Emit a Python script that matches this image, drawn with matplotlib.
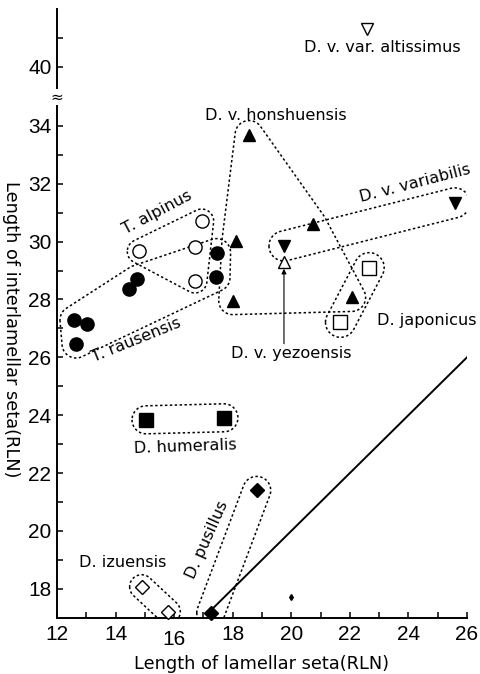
import numpy as np
import matplotlib
matplotlib.use("Agg")
import matplotlib.pyplot as plt
from matplotlib.patches import Polygon
from matplotlib.ticker import FixedLocator, FixedFormatter

# ---------------- data (lamellar seta, interlamellar seta; RLN) ----------------
t_alpinus_x = [14.81, 16.94, 16.71, 16.71]
t_alpinus_y = [29.66, 30.71, 29.82, 28.64]

t_rausensis_x = [12.58, 13.01, 12.65, 14.47, 14.74, 17.45, 17.43]
t_rausensis_y = [27.29, 27.15, 26.46, 28.36, 28.70, 29.62, 28.76]

honshuensis_x = [18.56, 18.11, 18.00, 20.73, 22.06]
honshuensis_y = [33.70, 30.02, 27.96, 30.60, 28.07]

variabilis_x = [19.75, 25.58]
variabilis_y = [29.85, 31.34]

yezoensis_x = [19.75]
yezoensis_y = [29.31]

altissimus_x = [22.60]
altissimus_y = [41.30]

japonicus_x = [22.66, 21.68]
japonicus_y = [29.10, 27.21]

humeralis_x = [15.04, 17.70]
humeralis_y = [23.84, 23.91]

izuensis_x = [14.89, 15.80]
izuensis_y = [18.07, 17.21]

pusillus_x = [18.82, 17.25]
pusillus_y = [21.40, 17.17]

speck_x = [20.0]
speck_y = [17.72]

diag_x = [17.3, 26.0]
diag_y = [17.3, 26.0]

x_major = [12, 14, 16, 18, 20, 22, 24, 26]
x_minor = [13, 15, 17, 19, 21, 23, 25]
y_major = [18, 20, 22, 24, 26, 28, 30, 32, 34, 40]
y_minor = [19, 21, 23, 25, 27, 29, 31, 33, 41]

x_label = "Length of lamellar seta(RLN)"
y_label = "Length of interlamellar seta(RLN)"

# ---------------- broken y scale (35..39 collapsed) ----------------
EPS = 0.01
def fwd(y):
    y = np.asarray(y, dtype=float)
    return np.where(y <= 35, y,
                    np.where(y >= 39, 35 + 4 * EPS + (y - 39), 35 + (y - 35) * EPS))

def inv(t):
    t = np.asarray(t, dtype=float)
    return np.where(t <= 35, t,
                    np.where(t >= 35 + 4 * EPS, t - 35 - 4 * EPS + 39, 35 + (t - 35) / EPS))

W, H = 480, 674
fig = plt.figure(figsize=(W / 100, H / 100), dpi=100)
ax = fig.add_axes([57 / W, 1 - 617.7 / H, 410 / W, 608.7 / H])
ax.set_yscale('function', functions=(fwd, inv))
ax.set_xlim(12, 26)
ax.set_ylim(17, 42)

for s in ['top', 'right']:
    ax.spines[s].set_visible(False)
for s in ['left', 'bottom']:
    ax.spines[s].set_linewidth(1.4)

tick_family = ['Liberation Sans Narrow', 'Liberation Sans']
ax.xaxis.set_major_locator(FixedLocator(x_major))
ax.xaxis.set_minor_locator(FixedLocator(x_minor))
ax.yaxis.set_major_locator(FixedLocator(y_major))
ax.yaxis.set_minor_locator(FixedLocator(y_minor))
ax.xaxis.set_major_formatter(FixedFormatter([str(v) for v in x_major]))
ax.yaxis.set_major_formatter(FixedFormatter([str(v) for v in y_major]))
ax.yaxis.set_minor_formatter(FixedFormatter([''] * len(y_minor)))
ax.tick_params(which='both', direction='in', length=4.5, width=1.1)
ax.tick_params(axis='x', which='major', pad=5)
ax.tick_params(axis='y', which='major', pad=4)
for lab in ax.get_xticklabels() + ax.get_yticklabels():
    lab.set_fontfamily(tick_family)
    lab.set_fontsize(15)
# the "16" label sits lower in the original print
ax.xaxis.get_major_ticks()[2].set_pad(8.5)

axis_font = dict(family='DejaVu Sans', size=12.8)
ax.set_xlabel(x_label, **axis_font)
ax.xaxis.set_label_coords(0.5, -0.061)
ax.set_ylabel(y_label, rotation=270, va='center', ha='center', **axis_font)
ax.yaxis.set_label_coords(-0.112, 0.474)

# axis break mark
ax.text(0, 35.0, '\u2248', transform=ax.get_yaxis_transform(), ha='center', va='center',
        fontsize=11, family='DejaVu Sans', clip_on=False,
        bbox=dict(facecolor='white', edgecolor='none', pad=0.3), zorder=5)

fig.canvas.draw()

def hull2d(p):
    p = sorted(map(tuple, p))
    def cross(o, a, b):
        return (a[0]-o[0])*(b[1]-o[1]) - (a[1]-o[1])*(b[0]-o[0])
    lower, upper = [], []
    for q in p:
        while len(lower) >= 2 and cross(lower[-2], lower[-1], q) <= 0:
            lower.pop()
        lower.append(q)
    for q in reversed(p):
        while len(upper) >= 2 and cross(upper[-2], upper[-1], q) <= 0:
            upper.pop()
        upper.append(q)
    return np.array(lower[:-1] + upper[:-1])

def enclose(xs, ys, r):
    pts = ax.transData.transform(np.column_stack([xs, ys]))
    a = np.linspace(0, 2 * np.pi, 60, endpoint=False)
    circ = np.column_stack([np.cos(a), np.sin(a)]) * r
    cloud = (pts[:, None, :] + circ[None, :, :]).reshape(-1, 2)
    h = hull2d(cloud)
    d = ax.transData.inverted().transform(h)
    ax.add_patch(Polygon(d, closed=True, fill=False, edgecolor='black',
                         linestyle=(0, (1.6, 1.6)), linewidth=1.1, zorder=2))

enclose(t_alpinus_x, t_alpinus_y, 12)
enclose(t_rausensis_x, t_rausensis_y, 14)
enclose(honshuensis_x, honshuensis_y, 14)
enclose(variabilis_x, variabilis_y, 15)
enclose(japonicus_x, japonicus_y, 15)
enclose(humeralis_x, humeralis_y, 14)
enclose(izuensis_x, izuensis_y, 12)
enclose(pusillus_x, pusillus_y, 14)

ax.plot(diag_x, diag_y, color='black', lw=1.4, zorder=3)

def pts(x, y, m, ms, filled):
    ax.plot(x, y, linestyle='none', marker=m, ms=ms,
            mfc='black' if filled else 'white', mec='black', mew=1.0, zorder=4, clip_on=False)

pts(t_alpinus_x, t_alpinus_y, 'o', 9.5, False)
pts(t_rausensis_x, t_rausensis_y, 'o', 9.5, True)
pts(honshuensis_x, honshuensis_y, '^', 9, True)
pts(variabilis_x, variabilis_y, 'v', 9, True)
pts(yezoensis_x, yezoensis_y, '^', 9, False)
pts(altissimus_x, altissimus_y, 'v', 9, False)
pts(japonicus_x, japonicus_y, 's', 9.5, False)
pts(humeralis_x, humeralis_y, 's', 10, True)
pts(izuensis_x, izuensis_y, 'D', 7.2, False)
pts(pusillus_x, pusillus_y, 'D', 7.5, True)
ax.plot(speck_x, speck_y, linestyle='none', marker='d', ms=3, color='black', zorder=4)

# labels
lab_font = dict(family='DejaVu Sans', size=11.6)
def lab(x, y, s, rot=0, ha='center'):
    ax.text(x, y, s, rotation=rot, ha=ha, va='center', rotation_mode='anchor', zorder=6, **lab_font)

lab(23.11, 40.67, 'D. v. var. altissimus')
lab(19.47, 34.37, 'D. v. honshuensis')
lab(15.43, 31.00, 'T. alpinus', 28)
lab(14.72, 26.60, 'T. rausensis', 22)
lab(24.22, 32.01, 'D. v. variabilis', 14.5)
lab(24.63, 27.27, 'D. japonicus')
lab(20.00, 26.12, 'D. v. yezoensis')
lab(16.37, 22.90, 'D. humeralis', 2)
lab(14.25, 18.90, 'D. izuensis')
lab(17.11, 19.68, 'D. pusillus', 66)

ax.annotate('', xy=(19.75, 29.06), xytext=(19.75, 26.47),
            arrowprops=dict(arrowstyle='-|>', lw=0.8, color='black',
                            mutation_scale=7, shrinkA=0, shrinkB=0), zorder=3)

fig.savefig('out.png', dpi=100)
